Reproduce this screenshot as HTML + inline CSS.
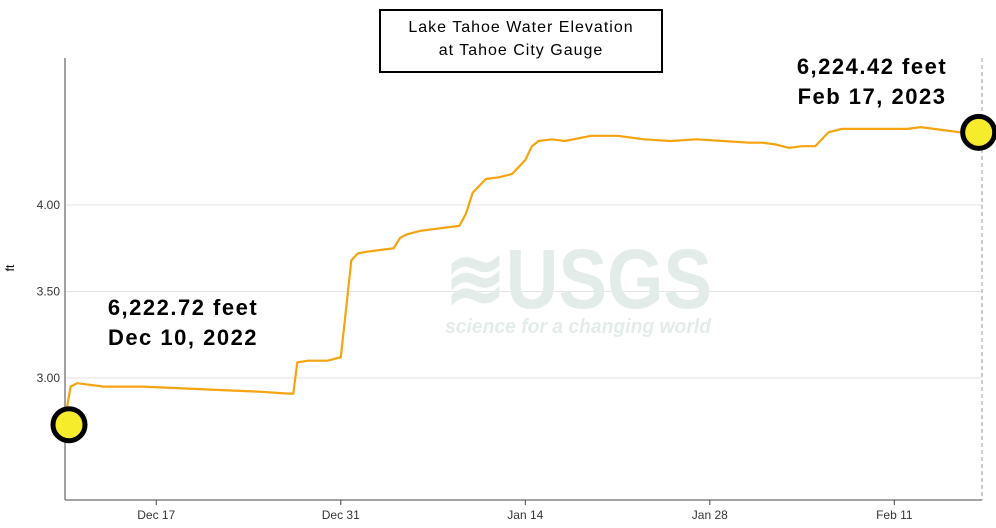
<!DOCTYPE html>
<html><head><meta charset="utf-8"><style>
body{margin:0;background:#fff;width:996px;height:528px;overflow:hidden;font-family:"Liberation Sans",sans-serif}
svg{display:block}
</style></head><body>
<svg width="996" height="528">
<g id="grid"></g>
<g>
<text x="445" y="308" textLength="267" lengthAdjust="spacingAndGlyphs" font-size="84" font-weight="bold" fill="#e4ece9">≋USGS</text>
<text x="445" y="333" textLength="266" lengthAdjust="spacingAndGlyphs" font-size="20" font-style="italic" font-weight="bold" fill="#e4ece9">science for a changing world</text>
</g>
<g id="axes"></g>
<line x1="982" y1="58" x2="982" y2="500" stroke="#999" stroke-dasharray="4,3"/>
<path id="line" fill="none" stroke="#f5a30f" stroke-width="2.2"/>
<g id="marks"></g>
<rect x="380" y="10" width="282" height="62" fill="#fff" stroke="#000" stroke-width="2"/>
<text x="521" y="32" text-anchor="middle" font-size="16" letter-spacing="1">Lake Tahoe Water Elevation</text>
<text x="521" y="55" text-anchor="middle" font-size="16" letter-spacing="1">at Tahoe City Gauge</text>
<g font-size="22" font-weight="bold" letter-spacing="1.5" text-anchor="middle">
<text x="872" y="74">6,224.42 feet</text>
<text x="872" y="104">Feb 17, 2023</text>
<text x="183" y="315">6,222.72 feet</text>
<text x="183" y="345">Dec 10, 2022</text>
</g>
<text transform="translate(14,268) rotate(-90)" text-anchor="middle" font-size="12">ft</text>
</svg>
<script>
const yTicks=[3.0,3.5,4.0];
const xTickLabels=["Dec 17","Dec 31","Jan 14","Jan 28","Feb 11"];
const xTickDays=[7,21,35,49,63];
const days=[0,0.5,1,3,6,9,12,15,17,17.4,17.7,18.5,20,21,21.4,21.8,22.3,23,24,25,25.5,26,27,28,29,30,30.5,31,32,33,34,35,35.5,36,37,38,40,42,44,46,48,50,52,53,54,55,56,56.5,57,58,59,60,62,64,65,66,67,68,69.4];
const vals=[2.73,2.95,2.97,2.95,2.95,2.94,2.93,2.92,2.91,2.91,3.09,3.10,3.10,3.12,3.40,3.68,3.72,3.73,3.74,3.75,3.81,3.83,3.85,3.86,3.87,3.88,3.95,4.07,4.15,4.16,4.18,4.26,4.34,4.37,4.38,4.37,4.40,4.40,4.38,4.37,4.38,4.37,4.36,4.36,4.35,4.33,4.34,4.34,4.34,4.42,4.44,4.44,4.44,4.44,4.45,4.44,4.43,4.42,4.42];
const ns="http://www.w3.org/2000/svg";
const X=d=>64+d*13.18, Y=v=>378-(v-3)*173;
const grid=document.getElementById('grid'),axes=document.getElementById('axes');
function mk(tag,attrs,parent,txt){const e=document.createElementNS(ns,tag);for(const k in attrs)e.setAttribute(k,attrs[k]);if(txt)e.textContent=txt;parent.appendChild(e);return e;}
yTicks.forEach(t=>{
 const l=mk('line',{x1:65,x2:982,y1:Y(t),y2:Y(t),stroke:'#e3e3e3'},grid);
 
 
 const tx=mk('text',{x:60,y:Y(t)+4,'text-anchor':'end','font-size':12,fill:'#333'},axes,t.toFixed(2));
 
 
});
const ya=mk('line',{x1:65,x2:65,y1:58,y2:500,stroke:'#444'},axes);


const xa=mk('line',{x1:65,x2:982,y1:500,y2:500,stroke:'#444'},axes);


xTickDays.forEach((d,i)=>{
 const tk=mk('line',{x1:X(d),x2:X(d),y1:500,y2:505,stroke:'#444'},axes);
 
 
 const tx=mk('text',{x:X(d),y:519,'text-anchor':'middle','font-size':12,fill:'#333'},axes,xTickLabels[i]);
 
 
});
document.getElementById('line').setAttribute('d',days.map((d,i)=>(i?'L':'M')+X(d).toFixed(1)+','+Y(vals[i]).toFixed(1)).join(''));
const marks=document.getElementById('marks');
[[0,'start-point-marker'],[days.length-1,'end-point-marker']].forEach(([i,n])=>{
 const c=mk('circle',{cx:Math.max(69,Math.min(X(days[i]),979)),cy:Y(vals[i]),r:16,fill:'#f7ec2c',stroke:'#000','stroke-width':5},marks);
 
 
});
</script>
</body></html>
